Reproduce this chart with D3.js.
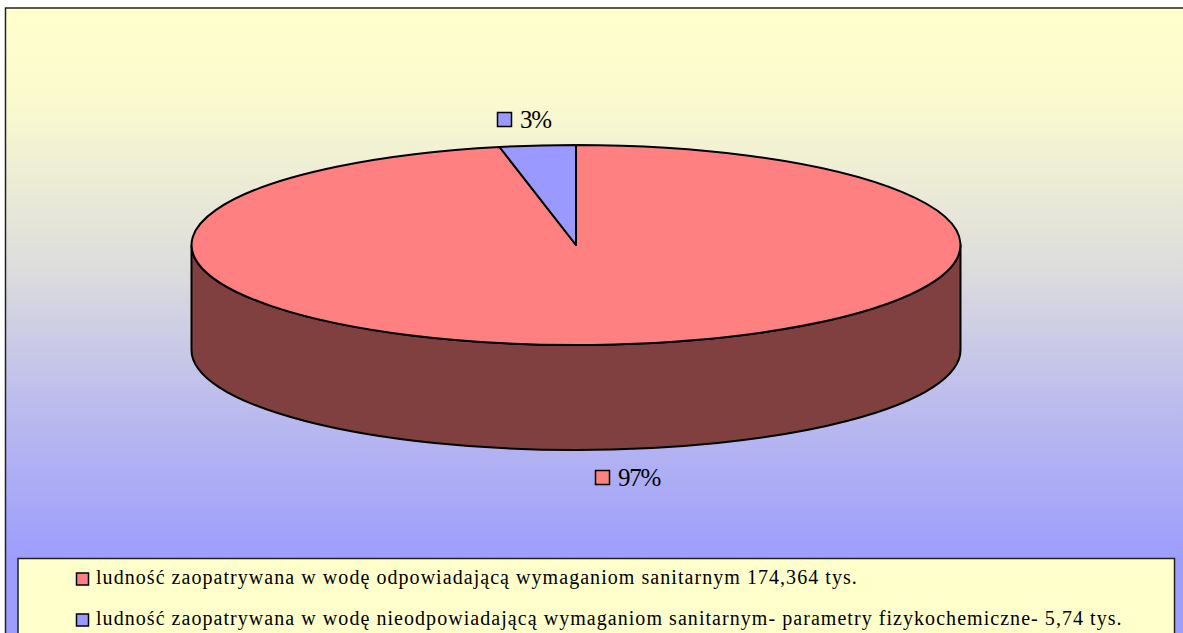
<!DOCTYPE html>
<html>
<head>
<meta charset="utf-8">
<script src="https://cdn.jsdelivr.net/npm/d3@7"></script>
<style>
html, body { margin: 0; padding: 0; background: #fff; }
svg { display: block; }
text { font-family: "Liberation Serif", serif; fill: #000; }
</style>
</head>
<body>
<div id="chart"></div>
<script>
const categories = [
    'ludność zaopatrywana w wodę odpowiadającą wymaganiom sanitarnym 174,364 tys.',
    'ludność zaopatrywana w wodę nieodpowiadającą wymaganiom sanitarnym- parametry fizykochemiczne- 5,74 tys.'
];
const values = [174.364, 5.74];
const percentLabels = ['97%', '3%'];
const topColors = ['#ff8080', '#9999ff'];
const sideColors = ['#804040', '#4d4d80'];

const width = 1183, height = 633;

const svg = d3.select('#chart').append('svg')
    .attr('width', width)
    .attr('height', height);

// background is not a straight blend, the middle goes slower at the top
const bgOffsets = [0, 0.17, 0.47, 0.71, 1];
const bgMix = [0, 0.05, 0.33, 0.65, 0.96];
const bgColor = d3.interpolateRgb('#ffffcc', '#9999ff');

const grad = svg.append('defs').append('linearGradient')
    .attr('id', 'bg')
    .attr('gradientUnits', 'userSpaceOnUse')
    .attr('x1', 0).attr('y1', 8).attr('x2', 0).attr('y2', 558);
bgOffsets.forEach((o, i) => {
    grad.append('stop').attr('offset', o).attr('stop-color', bgColor(bgMix[i]));
});

// frame, runs off the right and bottom of the page
svg.append('rect')
    .attr('x', 5.5).attr('y', 8)
    .attr('width', 1200).attr('height', 640)
    .attr('fill', 'url(#bg)')
    .attr('stroke', '#222')
    .attr('stroke-width', 1.5);

// flattened pie: x and y run on separate scales
const cx = 576, cy = 245, rx = 384.5, ry = 100, depth = 105;
const x = d3.scaleLinear().domain([-1, 1]).range([cx - rx, cx + rx]);
const y = d3.scaleLinear().domain([-1, 1]).range([cy - ry, cy + ry]);

const pie = d3.pie().sort(null).startAngle(0).endAngle(2 * Math.PI);
const slices = pie(values);

const px = a => x(Math.sin(a));
const py = a => y(-Math.cos(a));

// rim: front half of the ellipse, pushed down by depth
svg.append('path')
    .attr('d', `M${x(-1)},${y(0)} A${rx},${ry} 0 0 0 ${x(1)},${y(0)} V${y(0) + depth} A${rx},${ry} 0 0 1 ${x(-1)},${y(0) + depth} Z`)
    .attr('fill', sideColors[0])
    .attr('stroke', '#000')
    .attr('stroke-width', 2);

svg.selectAll('path.slice')
    .data(slices)
    .enter().append('path')
    .attr('class', 'slice')
    .attr('d', d => {
        const a0 = d.startAngle, a1 = d.endAngle;
        const large = a1 - a0 > Math.PI ? 1 : 0;
        return `M${cx},${cy} L${px(a0)},${py(a0)} A${rx},${ry} 0 ${large} 1 ${px(a1)},${py(a1)} Z`;
    })
    .attr('fill', (d, i) => topColors[i])
    .attr('stroke', '#000')
    .attr('stroke-width', 2)
    .attr('stroke-linejoin', 'round');

// data labels
const labelPos = [{sx: 595, tx: 618, by: 486}, {sx: 497, tx: 520, by: 128}];
percentLabels.forEach((t, i) => {
    const p = labelPos[i];
    svg.append('rect')
        .attr('x', p.sx + 0.5).attr('y', p.by - 15.5)
        .attr('width', 14).attr('height', 14)
        .attr('fill', topColors[i])
        .attr('stroke', '#000')
        .attr('stroke-width', 1.5);
    svg.append('text')
        .attr('x', p.tx).attr('y', p.by)
        .attr('font-size', 25)
        .attr('letter-spacing', -1.2)
        .text(t);
});

// legend
svg.append('rect')
    .attr('x', 18).attr('y', 558.5)
    .attr('width', 1156.5).attr('height', 90)
    .attr('fill', '#ffffcc')
    .attr('stroke', '#222')
    .attr('stroke-width', 1.5);

const legendY = d3.scalePoint().domain(categories).range([584, 625]);
categories.forEach((c, i) => {
    svg.append('rect')
        .attr('x', 76.5).attr('y', legendY(c) - 11)
        .attr('width', 12).attr('height', 12)
        .attr('fill', topColors[i])
        .attr('stroke', '#000')
        .attr('stroke-width', 1.5);
    svg.append('text')
        .attr('x', 96).attr('y', legendY(c))
        .attr('font-size', 20)
        .attr('letter-spacing', 1.05)
        .text(c);
});
</script>
</body>
</html>
